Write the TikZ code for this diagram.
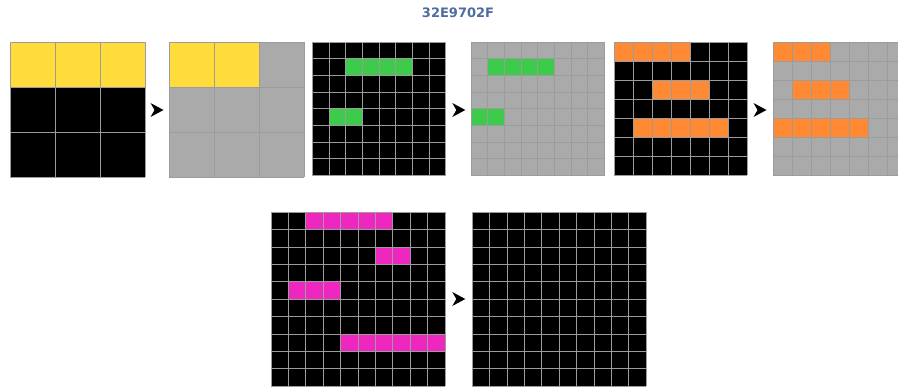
\documentclass[tikz,border=0pt]{standalone}
\usepackage{fontspec}
\newfontfamily\titlefont{DejaVu Sans}
\definecolor{arcblack}{HTML}{000000}
\definecolor{arcgray}{HTML}{AAAAAA}
\definecolor{arcyellow}{HTML}{FFDC3C}
\definecolor{arcgreen}{HTML}{3CCB4A}
\definecolor{arcorange}{HTML}{FF8A33}
\definecolor{arcmagenta}{HTML}{EE28BE}
\definecolor{gridcol}{HTML}{9C9C9C}
\definecolor{titlecol}{HTML}{4E6C9E}
\tikzset{
  gridline/.style={draw=gridcol, line width=0.9pt},
  pointer/.style={fill=black},
  titletext/.style={font=\titlefont\bfseries\fontsize{13}{15}\selectfont, text=titlecol, inner sep=0pt}
}
% #1 x, #2 y, #3 cell, #4 cols, #5 rows, #6 background, #7 coloured cells r/c/colour
\newcommand{\arcgrid}[7]{%
  \fill[#6] (#1,#2) rectangle ++(#4*#3,#5*#3);
  \foreach \r/\c/\k in {#7} {\fill[\k] ({#1+\c*#3},{#2+\r*#3}) rectangle ++(#3,#3);}
  \foreach \i in {0,...,#4} {\draw[gridline] ({#1+\i*#3},#2) -- ++(0,#5*#3);}
  \foreach \j in {0,...,#5} {\draw[gridline] (#1,{#2+\j*#3}) -- ++(#4*#3,0);}
}
\newcommand{\arcpointer}[2]{%
  \fill[pointer] (#1,#2-7) -- (#1+13,#2) -- (#1,#2+7) -- (#1+4,#2) -- cycle;
}
\begin{document}
\begin{tikzpicture}[x=1pt,y=-1pt]
\useasboundingbox (0,0) rectangle (898,388);
\clip (0,0) rectangle (898,388);
\node[titletext] (title) at (458,13) {32E9702F};
% pair 1
\arcgrid{10}{42}{45}{3}{3}{arcblack}{0/0/arcyellow,0/1/arcyellow,0/2/arcyellow}
\arcpointer{150.5}{110}
\arcgrid{169}{42}{45}{3}{3}{arcgray}{0/0/arcyellow,0/1/arcyellow}
% pair 2
\arcgrid{312.3}{42}{16.7}{8}{8}{arcblack}{1/2/arcgreen,1/3/arcgreen,1/4/arcgreen,1/5/arcgreen,4/1/arcgreen,4/2/arcgreen}
\arcpointer{452.3}{110}
\arcgrid{471}{42}{16.7}{8}{8}{arcgray}{1/1/arcgreen,1/2/arcgreen,1/3/arcgreen,1/4/arcgreen,4/0/arcgreen,4/1/arcgreen}
% pair 3
\arcgrid{614}{42}{19}{7}{7}{arcblack}{0/0/arcorange,0/1/arcorange,0/2/arcorange,0/3/arcorange,2/2/arcorange,2/3/arcorange,2/4/arcorange,4/1/arcorange,4/2/arcorange,4/3/arcorange,4/4/arcorange,4/5/arcorange}
\arcpointer{753.5}{110}
\arcgrid{773.3}{42}{19}{7}{7}{arcgray}{0/0/arcorange,0/1/arcorange,0/2/arcorange,2/1/arcorange,2/2/arcorange,2/3/arcorange,4/0/arcorange,4/1/arcorange,4/2/arcorange,4/3/arcorange,4/4/arcorange}
% test
\arcgrid{271}{212.3}{17.4}{10}{10}{arcblack}{0/2/arcmagenta,0/3/arcmagenta,0/4/arcmagenta,0/5/arcmagenta,0/6/arcmagenta,2/6/arcmagenta,2/7/arcmagenta,4/1/arcmagenta,4/2/arcmagenta,4/3/arcmagenta,7/4/arcmagenta,7/5/arcmagenta,7/6/arcmagenta,7/7/arcmagenta,7/8/arcmagenta,7/9/arcmagenta}
\arcpointer{452.3}{299}
\arcgrid{472.3}{212.3}{17.4}{10}{10}{arcblack}{0/0/arcblack}
\end{tikzpicture}
\end{document}
